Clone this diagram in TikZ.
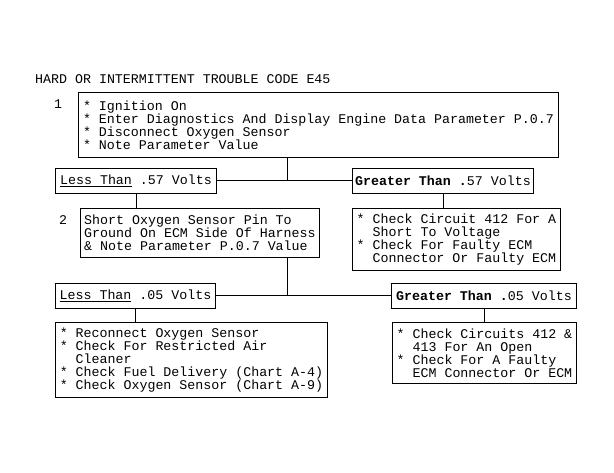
\documentclass[tikz,border=0pt]{standalone}
\usepackage{fontspec}
\setmonofont{Liberation Mono}
\newcommand{\ind}{\hspace*{1.2em}}
\newcommand{\bul}{{*}\ }
\newcommand{\lowval}[1]{\underline{#1}}
\newcommand{\highval}[1]{\textbf{#1}}
\tikzset{
  stepbox/.style={draw,line width=0.9pt,anchor=north west,align=left,inner xsep=0pt,inner ysep=0pt},
  headbox/.style={stepbox,minimum height=25pt},
  link/.style={line width=0.9pt}
}

\begin{document}
\begin{tikzpicture}[x=1pt,y=-1pt,font=\ttfamily\fontsize{13.3}{13}\selectfont]
\useasboundingbox (0,0) rectangle (614,473);
\node[anchor=base west,inner sep=0pt] (title) at (35,84) {HARD OR INTERMITTENT TROUBLE CODE E45};
\node[inner sep=0pt] (num1) at (58,104) {1};
\node[stepbox,minimum width=480pt,minimum height=65pt] (step1) at (78,92)
  {\bul Ignition On\\\bul Enter Diagnostics And Display Engine Data Parameter P.0.7\\\bul Disconnect Oxygen Sensor\\\bul Note Parameter Value};
\node[headbox,minimum width=161pt] (lt57) at (55,168)
  {\lowval{Less Than} .57 Volts};
\node[headbox,minimum width=181pt] (gt57) at (352,168)
  {\highval{Greater Than .}57 Volts};
\node[inner sep=0pt] (num2) at (63,220) {2};
\node[stepbox,minimum width=239pt,minimum height=49pt] (step2) at (80,208)
  {Short Oxygen Sensor Pin To\\Ground On ECM Side Of Harness\\\& Note Parameter P.0.7 Value};
\node[stepbox,minimum width=208pt,minimum height=62pt] (res57) at (352,208)
  {\bul Check Circuit 412 For A\\\ind Short To Voltage\\\bul Check For Faulty ECM\\\ind Connector Or Faulty ECM};
\node[headbox,minimum width=160pt] (lt05) at (55,283)
  {\lowval{Less Than} .05 Volts};
\node[headbox,minimum width=185pt] (gt05) at (391,283)
  {\highval{Greater Than .}05 Volts};
\node[stepbox,minimum width=272pt,minimum height=75pt] (res05a) at (55,322)
  {\bul Reconnect Oxygen Sensor\\\bul Check For Restricted Air\\\ind Cleaner\\\bul Check Fuel Delivery (Chart A-4)\\\bul Check Oxygen Sensor (Chart A-9)};
\node[stepbox,minimum width=184pt,minimum height=61pt] (res05b) at (392,322)
  {\bul Check Circuits 412 \&\\\ind 413 For An Open\\\bul Check For A Faulty\\\ind ECM Connector Or ECM};
\coordinate (j1) at (287,180.5);
\coordinate (j2) at (287,295.5);
\draw[link] (step1.south -| j1) -- (j1);
\draw[link] (lt57.east) -- (gt57.west);
\draw[link] (lt57.south) -- (lt57.south |- step2.north);
\draw[link] (gt57.south) -- (gt57.south |- res57.north);
\draw[link] (step2.south -| j2) -- (j2);
\draw[link] (lt05.east) -- (gt05.west);
\draw[link] (lt05.south) -- (lt05.south |- res05a.north);
\draw[link] (gt05.south) -- (gt05.south |- res05b.north);
\end{tikzpicture}
\end{document}
